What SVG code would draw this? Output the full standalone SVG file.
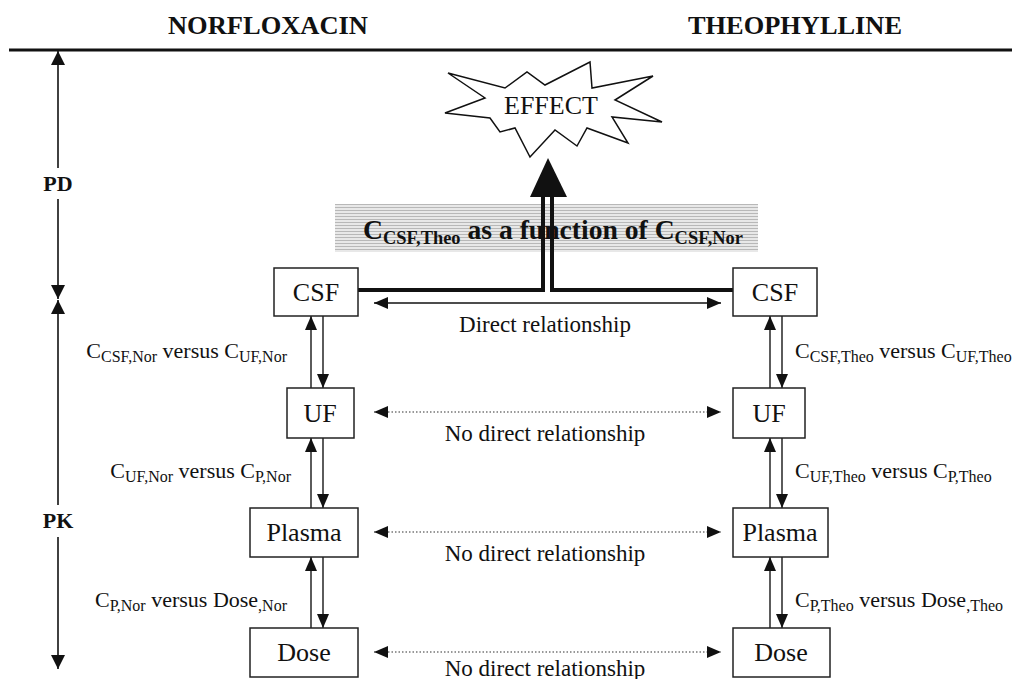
<svg xmlns="http://www.w3.org/2000/svg" width="1012" height="679" viewBox="0 0 1012 679">
<style>
text{font-family:"Liberation Serif","Times New Roman",serif;fill:#111}
.hdr{font-size:25px;font-weight:bold}
.ax{font-size:22px;font-weight:bold;text-anchor:middle}
.box{fill:#fff;stroke:#222;stroke-width:1.5}
.bt{font-size:26px;text-anchor:middle}
.lbl{font-size:22px}
.rel{font-size:23px;text-anchor:middle}
.sub{font-size:16px}
.vl{stroke:#333;stroke-width:1.6;fill:none}
.dot{stroke:#333;stroke-width:1.2;stroke-dasharray:1.5 2;fill:none}
.sol{stroke:#111;stroke-width:1.6;fill:none}
.thick{stroke:#111;stroke-width:4;fill:none}
</style>
<defs>
<marker id="ah" markerUnits="userSpaceOnUse" markerWidth="14" markerHeight="12" refX="14" refY="6" orient="auto-start-reverse" viewBox="0 0 14 12">
<path d="M0,0 L14,6 L0,12 z" fill="#111"/>
</marker>
<marker id="ax" markerUnits="userSpaceOnUse" markerWidth="14" markerHeight="14" refX="14" refY="7" orient="auto-start-reverse" viewBox="0 0 14 14">
<path d="M0,0 L14,7 L0,14 z" fill="#111"/>
</marker>
<pattern id="stripes" width="6" height="3" patternUnits="userSpaceOnUse">
<rect width="6" height="3" fill="#e8e8e8"/>
<rect width="6" height="1" fill="#b8b8b8"/>
</pattern>
</defs>

<g id="header">
<text class="hdr" x="168" y="34" textLength="200" lengthAdjust="spacingAndGlyphs">NORFLOXACIN</text>
<text class="hdr" x="688" y="34" textLength="214" lengthAdjust="spacingAndGlyphs">THEOPHYLLINE</text>
<line x1="9" y1="50" x2="1012" y2="50" stroke="#111" stroke-width="3"/>
</g>

<g id="axis">
<line class="sol" x1="58" y1="168" x2="58" y2="51" marker-end="url(#ax)"/>
<text class="ax" x="58" y="191">PD</text>
<line class="sol" x1="58" y1="199" x2="58" y2="299" marker-end="url(#ax)"/>
<line class="sol" x1="58" y1="505" x2="58" y2="300" marker-end="url(#ax)"/>
<text class="ax" x="58" y="528">PK</text>
<line class="sol" x1="58" y1="537" x2="58" y2="669" marker-end="url(#ax)"/>
</g>

<g id="effect">
<polygon points="448,73 505,88 527,72 545,85 590,62 592,88 653,76 615,100 662,122 612,117 628,143 587,128 577,146 555,130 530,157 515,128 500,132 490,118 445,113 485,98" fill="#fff" stroke="#111" stroke-width="1.5" stroke-linejoin="miter"/>
<text x="551" y="114" style="font-size:26px;text-anchor:middle">EFFECT</text>
</g>

<g id="function-band">
<rect x="335" y="204" width="423" height="48" fill="url(#stripes)"/>
</g>

<g id="connectors">
<polygon points="548,158 567,197 530,197" fill="#111"/>
<polyline class="thick" points="358,290 543,290 543,196"/>
<polyline class="thick" points="733,290 552,290 552,196"/>
<line class="sol" x1="374" y1="303" x2="721" y2="303" marker-start="url(#ah)" marker-end="url(#ah)"/>
<line class="dot" x1="374" y1="412" x2="721" y2="412" marker-start="url(#ah)" marker-end="url(#ah)"/>
<line class="dot" x1="374" y1="532" x2="721" y2="532" marker-start="url(#ah)" marker-end="url(#ah)"/>
<line class="dot" x1="374" y1="652" x2="721" y2="652" marker-start="url(#ah)" marker-end="url(#ah)"/>
<line class="vl" x1="311" y1="388" x2="311" y2="316" marker-end="url(#ah)"/>
<line class="vl" x1="323" y1="316" x2="323" y2="388" marker-end="url(#ah)"/>
<line class="vl" x1="311" y1="508" x2="311" y2="438" marker-end="url(#ah)"/>
<line class="vl" x1="323" y1="438" x2="323" y2="508" marker-end="url(#ah)"/>
<line class="vl" x1="311" y1="628" x2="311" y2="557" marker-end="url(#ah)"/>
<line class="vl" x1="323" y1="557" x2="323" y2="628" marker-end="url(#ah)"/>
<line class="vl" x1="770" y1="388" x2="770" y2="316" marker-end="url(#ah)"/>
<line class="vl" x1="782" y1="316" x2="782" y2="388" marker-end="url(#ah)"/>
<line class="vl" x1="770" y1="508" x2="770" y2="438" marker-end="url(#ah)"/>
<line class="vl" x1="782" y1="438" x2="782" y2="508" marker-end="url(#ah)"/>
<line class="vl" x1="770" y1="628" x2="770" y2="557" marker-end="url(#ah)"/>
<line class="vl" x1="782" y1="557" x2="782" y2="628" marker-end="url(#ah)"/>
</g>

<g id="function-label">
<text x="363" y="239" style="font-size:27px;font-weight:bold" textLength="380" lengthAdjust="spacingAndGlyphs">C<tspan dy="5" style="font-size:18px">CSF,Theo</tspan><tspan dy="-5"> as a function of C</tspan><tspan dy="5" style="font-size:18px">CSF,Nor</tspan></text>
</g>

<g id="relationship-labels">
<text class="rel" x="545" y="332">Direct relationship</text>
<text class="rel" x="545" y="441">No direct relationship</text>
<text class="rel" x="545" y="561">No direct relationship</text>
<text class="rel" x="545" y="676">No direct relationship</text>
</g>

<g id="nor-csf"><rect class="box" x="274" y="268" width="84" height="48"/><text class="bt" x="316" y="301">CSF</text></g>
<g id="nor-uf"><rect class="box" x="287" y="388" width="67" height="50"/><text class="bt" x="320" y="422">UF</text></g>
<g id="nor-plasma"><rect class="box" x="250" y="508" width="108" height="49"/><text class="bt" x="304" y="541">Plasma</text></g>
<g id="nor-dose"><rect class="box" x="250" y="628" width="108" height="49"/><text class="bt" x="304" y="661">Dose</text></g>

<g id="theo-csf"><rect class="box" x="733" y="268" width="84" height="48"/><text class="bt" x="775" y="301">CSF</text></g>
<g id="theo-uf"><rect class="box" x="733" y="388" width="72" height="50"/><text class="bt" x="769" y="422">UF</text></g>
<g id="theo-plasma"><rect class="box" x="733" y="508" width="95" height="49"/><text class="bt" x="780" y="541">Plasma</text></g>
<g id="theo-dose"><rect class="box" x="733" y="628" width="97" height="49"/><text class="bt" x="781" y="661">Dose</text></g>

<g id="nor-labels">
<text class="lbl" x="287" y="358" text-anchor="end">C<tspan class="sub" dy="4">CSF,Nor</tspan><tspan dy="-4"> versus C</tspan><tspan class="sub" dy="4">UF,Nor</tspan></text>
<text class="lbl" x="291" y="478" text-anchor="end">C<tspan class="sub" dy="4">UF,Nor</tspan><tspan dy="-4"> versus C</tspan><tspan class="sub" dy="4">P,Nor</tspan></text>
<text class="lbl" x="287" y="607" text-anchor="end">C<tspan class="sub" dy="4">P,Nor</tspan><tspan dy="-4"> versus Dose</tspan><tspan class="sub" dy="4">,Nor</tspan></text>
</g>

<g id="theo-labels">
<text class="lbl" x="795" y="358">C<tspan class="sub" dy="4">CSF,Theo</tspan><tspan dy="-4"> versus C</tspan><tspan class="sub" dy="4">UF,Theo</tspan></text>
<text class="lbl" x="795" y="478">C<tspan class="sub" dy="4">UF,Theo</tspan><tspan dy="-4"> versus C</tspan><tspan class="sub" dy="4">P,Theo</tspan></text>
<text class="lbl" x="795" y="607">C<tspan class="sub" dy="4">P,Theo</tspan><tspan dy="-4"> versus Dose</tspan><tspan class="sub" dy="4">,Theo</tspan></text>
</g>
</svg>
